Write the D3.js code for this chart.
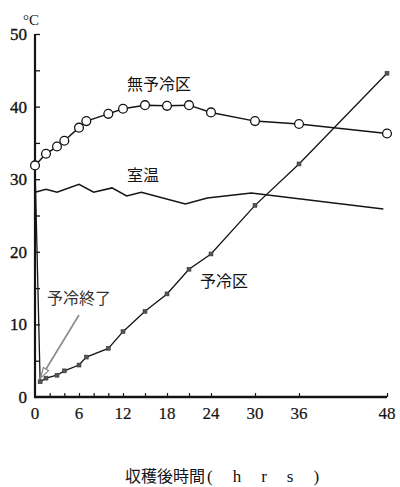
<!DOCTYPE html>
<html>
<head>
<meta charset="utf-8">
<script src="https://cdn.jsdelivr.net/npm/d3@7"></script>
<style>
  html, body { margin: 0; padding: 0; background: #fff; }
  svg { display: block; }
</style>
</head>
<body>
<svg id="chart" width="400" height="487"></svg>
<script>
// Hours after harvest and temperature (°C) for each series
const noPrecoolHours = [0, 1.5, 3, 4, 6, 7, 10, 12, 15, 18, 21, 24, 30, 36, 48];
const noPrecoolTemp  = [31.9, 33.5, 34.5, 35.3, 37.1, 38.0, 39.0, 39.7, 40.2, 40.1, 40.2, 39.2, 38.0, 37.6, 36.3];

const precoolHours = [0, 0.7, 1.5, 3, 4, 6, 7, 10, 12, 15, 18, 21, 24, 30, 36, 48];
const precoolTemp  = [31.9, 2.1, 2.6, 3.0, 3.6, 4.4, 5.5, 6.7, 9.0, 11.8, 14.2, 17.6, 19.7, 26.4, 32.1, 44.6];

const roomHours = [0, 1.5, 3, 6, 8, 10.5, 12.5, 14.5, 20.5, 23.5, 29.5, 47.5];
const roomTemp  = [28.2, 28.6, 28.2, 29.3, 28.2, 28.8, 27.7, 28.2, 26.6, 27.4, 28.1, 25.9];

// Axis ticks
const xTickLabels = [0, 6, 12, 18, 24, 30, 36, 48];
const xTickMarks  = [2, 4, 6, 8, 10, 12, 15, 18, 21, 24, 30, 36, 48];
const yTickLabels = [0, 10, 20, 30, 40, 50];
const yTickMarks  = [5, 10, 15, 20, 25, 30, 35, 40, 45, 50];

const svg = d3.select("#chart");
const x = d3.scaleLinear().domain([0, 48]).range([35, 387]);
const y = d3.scaleLinear().domain([0, 50]).range([397, 34]);

const ink = "#141414";
const serif = "'Liberation Serif', 'DejaVu Serif', serif";
const cjk = "'Noto Sans CJK JP', sans-serif";

// Y axis with inward ticks
const yAxis = svg.append("g").attr("transform", `translate(${x(0)},0)`)
  .call(d3.axisRight(y).tickValues(yTickMarks).tickSize(5).tickFormat(""));
yAxis.select(".domain").remove();
yAxis.selectAll(".tick line").attr("stroke", ink).attr("stroke-width", 1.3);
svg.append("line")
  .attr("x1", x(0)).attr("x2", x(0)).attr("y1", y(50)).attr("y2", y(0))
  .attr("stroke", ink).attr("stroke-width", 2.2);

// X axis with inward ticks
const xAxis = svg.append("g").attr("transform", `translate(0,${y(0)})`)
  .call(d3.axisTop(x).tickValues(xTickMarks).tickSize(4).tickFormat(""));
xAxis.select(".domain").remove();
xAxis.selectAll(".tick line").attr("stroke", ink).attr("stroke-width", 1.2);
svg.append("line")
  .attr("x1", x(0) - 1).attr("x2", x(48)).attr("y1", y(0)).attr("y2", y(0))
  .attr("stroke", ink).attr("stroke-width", 2.4);

// Tick labels
svg.append("g").selectAll("text").data(yTickLabels).join("text")
  .attr("x", 27).attr("y", d => y(d)).attr("dy", "0.35em")
  .attr("text-anchor", "end")
  .attr("font-family", serif).attr("font-size", 17).attr("fill", ink)
  .attr("stroke", ink).attr("stroke-width", 0.35)
  .text(d => d);

svg.append("g").selectAll("text").data(xTickLabels).join("text")
  .attr("x", d => x(d)).attr("y", 419)
  .attr("text-anchor", "middle")
  .attr("font-family", serif).attr("font-size", 17).attr("fill", ink)
  .attr("stroke", ink).attr("stroke-width", 0.2)
  .text(d => d);

// Unit label
svg.append("text").attr("x", 23).attr("y", 25)
  .attr("font-family", serif).attr("font-size", 15).attr("fill", ink)
  .text("°C");

// Axis title
const title = svg.append("text").attr("x", 125).attr("y", 482)
  .attr("font-family", cjk).attr("font-size", 16).attr("fill", ink);
title.append("tspan").text("収穫後時間");
title.append("tspan").attr("dx", 2).attr("font-family", serif).attr("font-size", 17)
  .attr("letter-spacing", 20).text("(hrs)");

// Series lines
const zip = (hs, vs) => hs.map((h, i) => [h, vs[i]]);
const line = d3.line().x(d => x(d[0])).y(d => y(d[1]));

const room = zip(roomHours, roomTemp);
const precool = zip(precoolHours, precoolTemp);
const noPrecool = zip(noPrecoolHours, noPrecoolTemp);

svg.append("path").datum(room).attr("d", line)
  .attr("fill", "none").attr("stroke", ink).attr("stroke-width", 1.5);

svg.append("path").datum(precool).attr("d", line)
  .attr("fill", "none").attr("stroke", ink).attr("stroke-width", 1.3);

svg.append("g").selectAll("rect").data(precool.slice(1)).join("rect")
  .attr("x", d => x(d[0]) - 2).attr("y", d => y(d[1]) - 2)
  .attr("width", 4).attr("height", 4)
  .attr("fill", "#555").attr("stroke", "#333").attr("stroke-width", 0.5);

svg.append("path").datum(noPrecool).attr("d", line)
  .attr("fill", "none").attr("stroke", ink).attr("stroke-width", 1.5);

svg.append("g").selectAll("circle").data(noPrecool).join("circle")
  .attr("cx", d => x(d[0])).attr("cy", d => y(d[1])).attr("r", 4.4)
  .attr("fill", "#fff").attr("stroke", ink).attr("stroke-width", 1.3);

// Series labels
const label = (tx, ty, s, color) => svg.append("text")
  .attr("x", tx).attr("y", ty).attr("font-family", cjk).attr("font-size", 16)
  .attr("fill", color || ink).text(s);
label(127, 90, "無予冷区");
label(127, 181, "室温");
label(200, 287, "予冷区");
label(47, 304, "予冷終了", "#333");

// Arrow pointing at the end of precooling
const tail = [6.0, 11.3], tip = [0.75, 2.6];
const ax1 = x(tail[0]), ay1 = y(tail[1]), ax2 = x(tip[0]), ay2 = y(tip[1]);
const ang = Math.atan2(ay2 - ay1, ax2 - ax1);
const hl = 11, hw = 0.28;
svg.append("line").attr("x1", ax1).attr("y1", ay1)
  .attr("x2", ax2 - Math.cos(ang) * 6).attr("y2", ay2 - Math.sin(ang) * 6)
  .attr("stroke", "#888").attr("stroke-width", 1.6);
svg.append("path")
  .attr("d", `M${ax2},${ay2}L${ax2 - hl * Math.cos(ang - hw)},${ay2 - hl * Math.sin(ang - hw)}L${ax2 - hl * Math.cos(ang + hw)},${ay2 - hl * Math.sin(ang + hw)}Z`)
  .attr("fill", "#fff").attr("stroke", "#888").attr("stroke-width", 1.2);
</script>
</body>
</html>
